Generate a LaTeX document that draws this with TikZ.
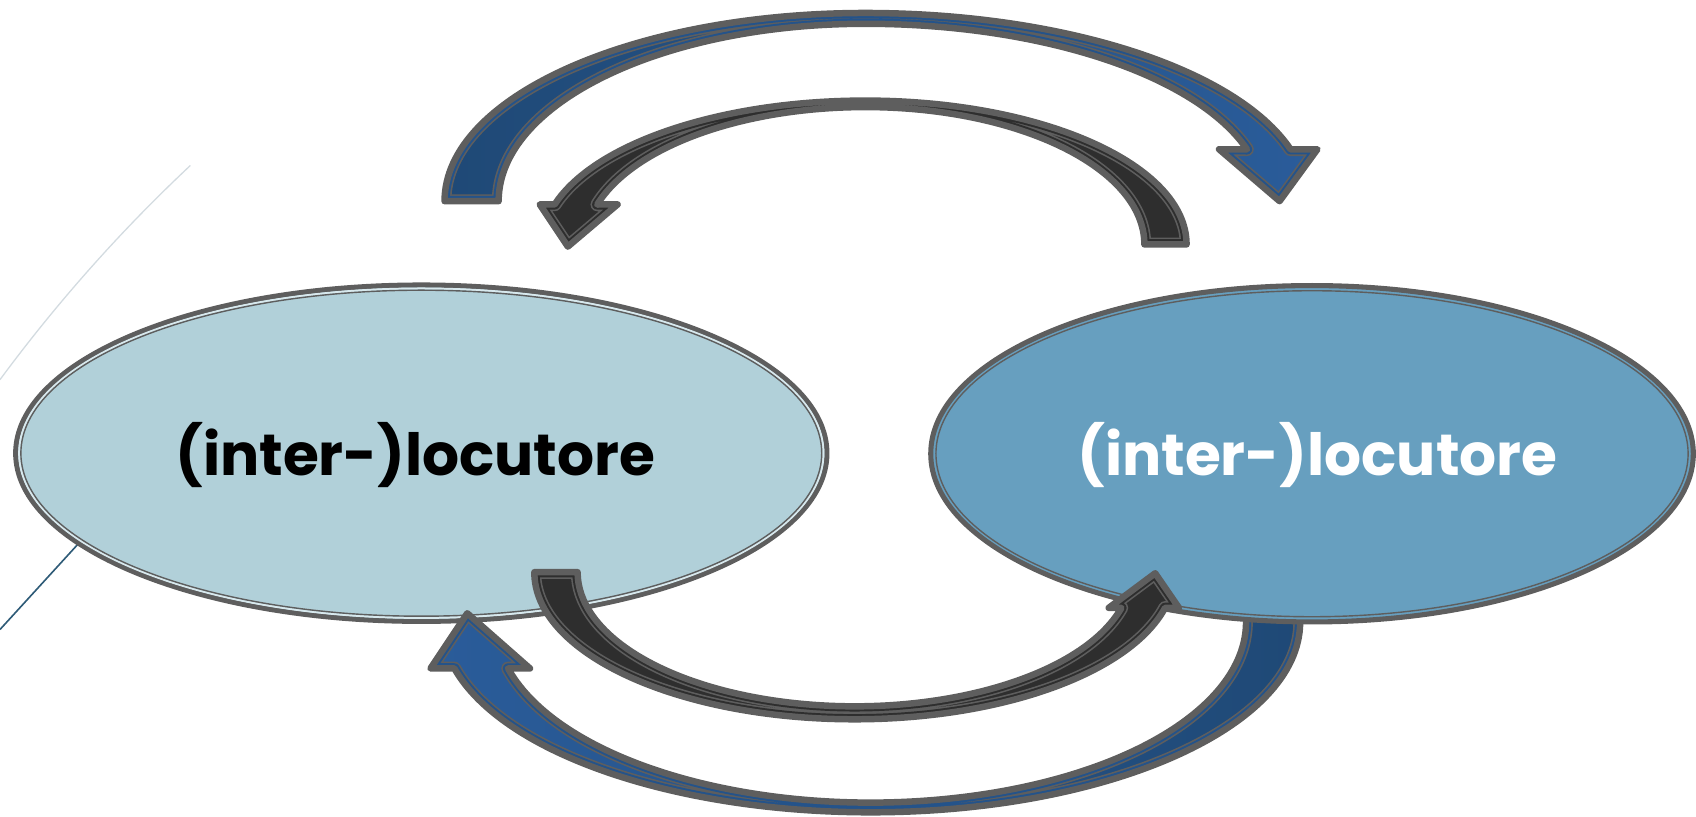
\documentclass[tikz,border=0pt]{standalone}
\usepackage{fontspec}
\setmainfont{Poppins}
\usetikzlibrary{shapes.geometric,calc}
\definecolor{outl}{HTML}{5E5E5E}
\definecolor{blueA}{HTML}{24538A}
\definecolor{blueDk}{HTML}{1F4976}
\definecolor{blueLt}{HTML}{2A5C9A}
\definecolor{darkA}{HTML}{2E2E2E}
\definecolor{fillL}{HTML}{B1D0D9}
\definecolor{gapL}{HTML}{D8E9EE}
\definecolor{fillR}{HTML}{679FBF}
\definecolor{lineLight}{HTML}{D3DBE0}
\definecolor{lineDark}{HTML}{2E5B77}
% #1 fill options, #2 band colour, #3 path
\newcommand{\arrowshape}[3]{%
  \path[#1] #3;
  \begin{scope}
    \clip #3;
    \draw[outl, line width=12.6bp, line join=round] #3;
    \draw[#2, line width=9.6bp, line join=round] #3;
  \end{scope}
  \draw[outl, line width=6bp, line join=round] #3;
}
\tikzset{
  locnode/.style={ellipse, draw=outl, line width=4.7bp, minimum height=311bp, inner sep=0pt},
  loctext/.style={anchor=base, font=\bfseries\fontsize{54}{64}\selectfont}
}
\begin{document}
\begin{tikzpicture}[x=1bp,y=1bp]
\useasboundingbox (0,0) rectangle (1568,755);
% decorative background lines
\draw[lineLight, line width=1.2bp] (176,602) .. controls (111.3,541.3) and (52.7,475.3) .. (0,404);
\draw[lineDark, line width=1.5bp] (95,277) -- (0,173);
% top blue arrow
\arrowshape{left color=blueDk, right color=blueLt}{blueA}{($(800,569)+(180:389 and 174)$) arc[start angle=180,end angle=90,x radius=389,y radius=174] arc[start angle=90,end angle=16,x radius=409,y radius=174] -- (1218,617) -- (1183,569) -- (1127,617) -- ($(800,569)+(17:369 and 164)$) arc[start angle=17,end angle=90,x radius=369,y radius=164] arc[start angle=90,end angle=180,x radius=339,y radius=164] -- cycle}
% top dark arrow
\arrowshape{fill=darkA}{darkA}{($(800,529)+(0:297 and 133)$) arc[start angle=0,end angle=90,x radius=297,y radius=133] arc[start angle=90,end angle=163.85,x radius=299,y radius=133] -- (499,566) -- (525,527) -- (571,566) -- ($(800,529)+(163.1:259 and 127)$) arc[start angle=163.1,end angle=90,x radius=259,y radius=127] arc[start angle=90,end angle=0,x radius=258,y radius=127] -- cycle}
% left ellipse
\node[locnode, fill=fillL, minimum width=750bp] (locA) at (389.5,336) {};
\draw[gapL, line width=1.8bp] (locA.center) ellipse[x radius=371.8, y radius=152.3];
\draw[outl, line width=1.3bp] (locA.center) ellipse[x radius=370.2, y radius=150.7];
\node[loctext, text=black] (tA) at (384,315) {(inter-)locutore};
% bottom blue arrow
\arrowshape{left color=blueLt, right color=blueDk}{blueA}{(1202,200) -- (1202,180) arc[start angle=0,end angle=-90,x radius=397,y radius=176] arc[start angle=-90,end angle=-165.86,x radius=397,y radius=176] -- (398,137) -- (432,188) -- (490,137) -- ($(805,180)+(194.92:347 and 167)$) arc[start angle=194.92,end angle=360,x radius=347,y radius=167] -- (1152,200) -- cycle}
% right ellipse
\node[locnode, fill=fillR, minimum width=705bp] (locB) at (1213,335.5) {};
\draw[outl, line width=1.3bp] (locB.center) ellipse[x radius=347.7, y radius=150.7];
\node[loctext, text=white] (tB) at (1218,315) {(inter-)locutore};
% bottom dark arrow
\arrowshape{fill=darkA}{darkA}{($(790,226)+(180:296 and 136)$) arc[start angle=180,end angle=270,x radius=296,y radius=136] arc[start angle=270,end angle=345.96,x radius=296,y radius=136] -- (1090,193) -- (1068,225) -- (1025,193) -- ($(790,226)+(344.57:256 and 124)$) arc[start angle=344.57,end angle=180,x radius=256,y radius=124] -- cycle}
\end{tikzpicture}
\end{document}
